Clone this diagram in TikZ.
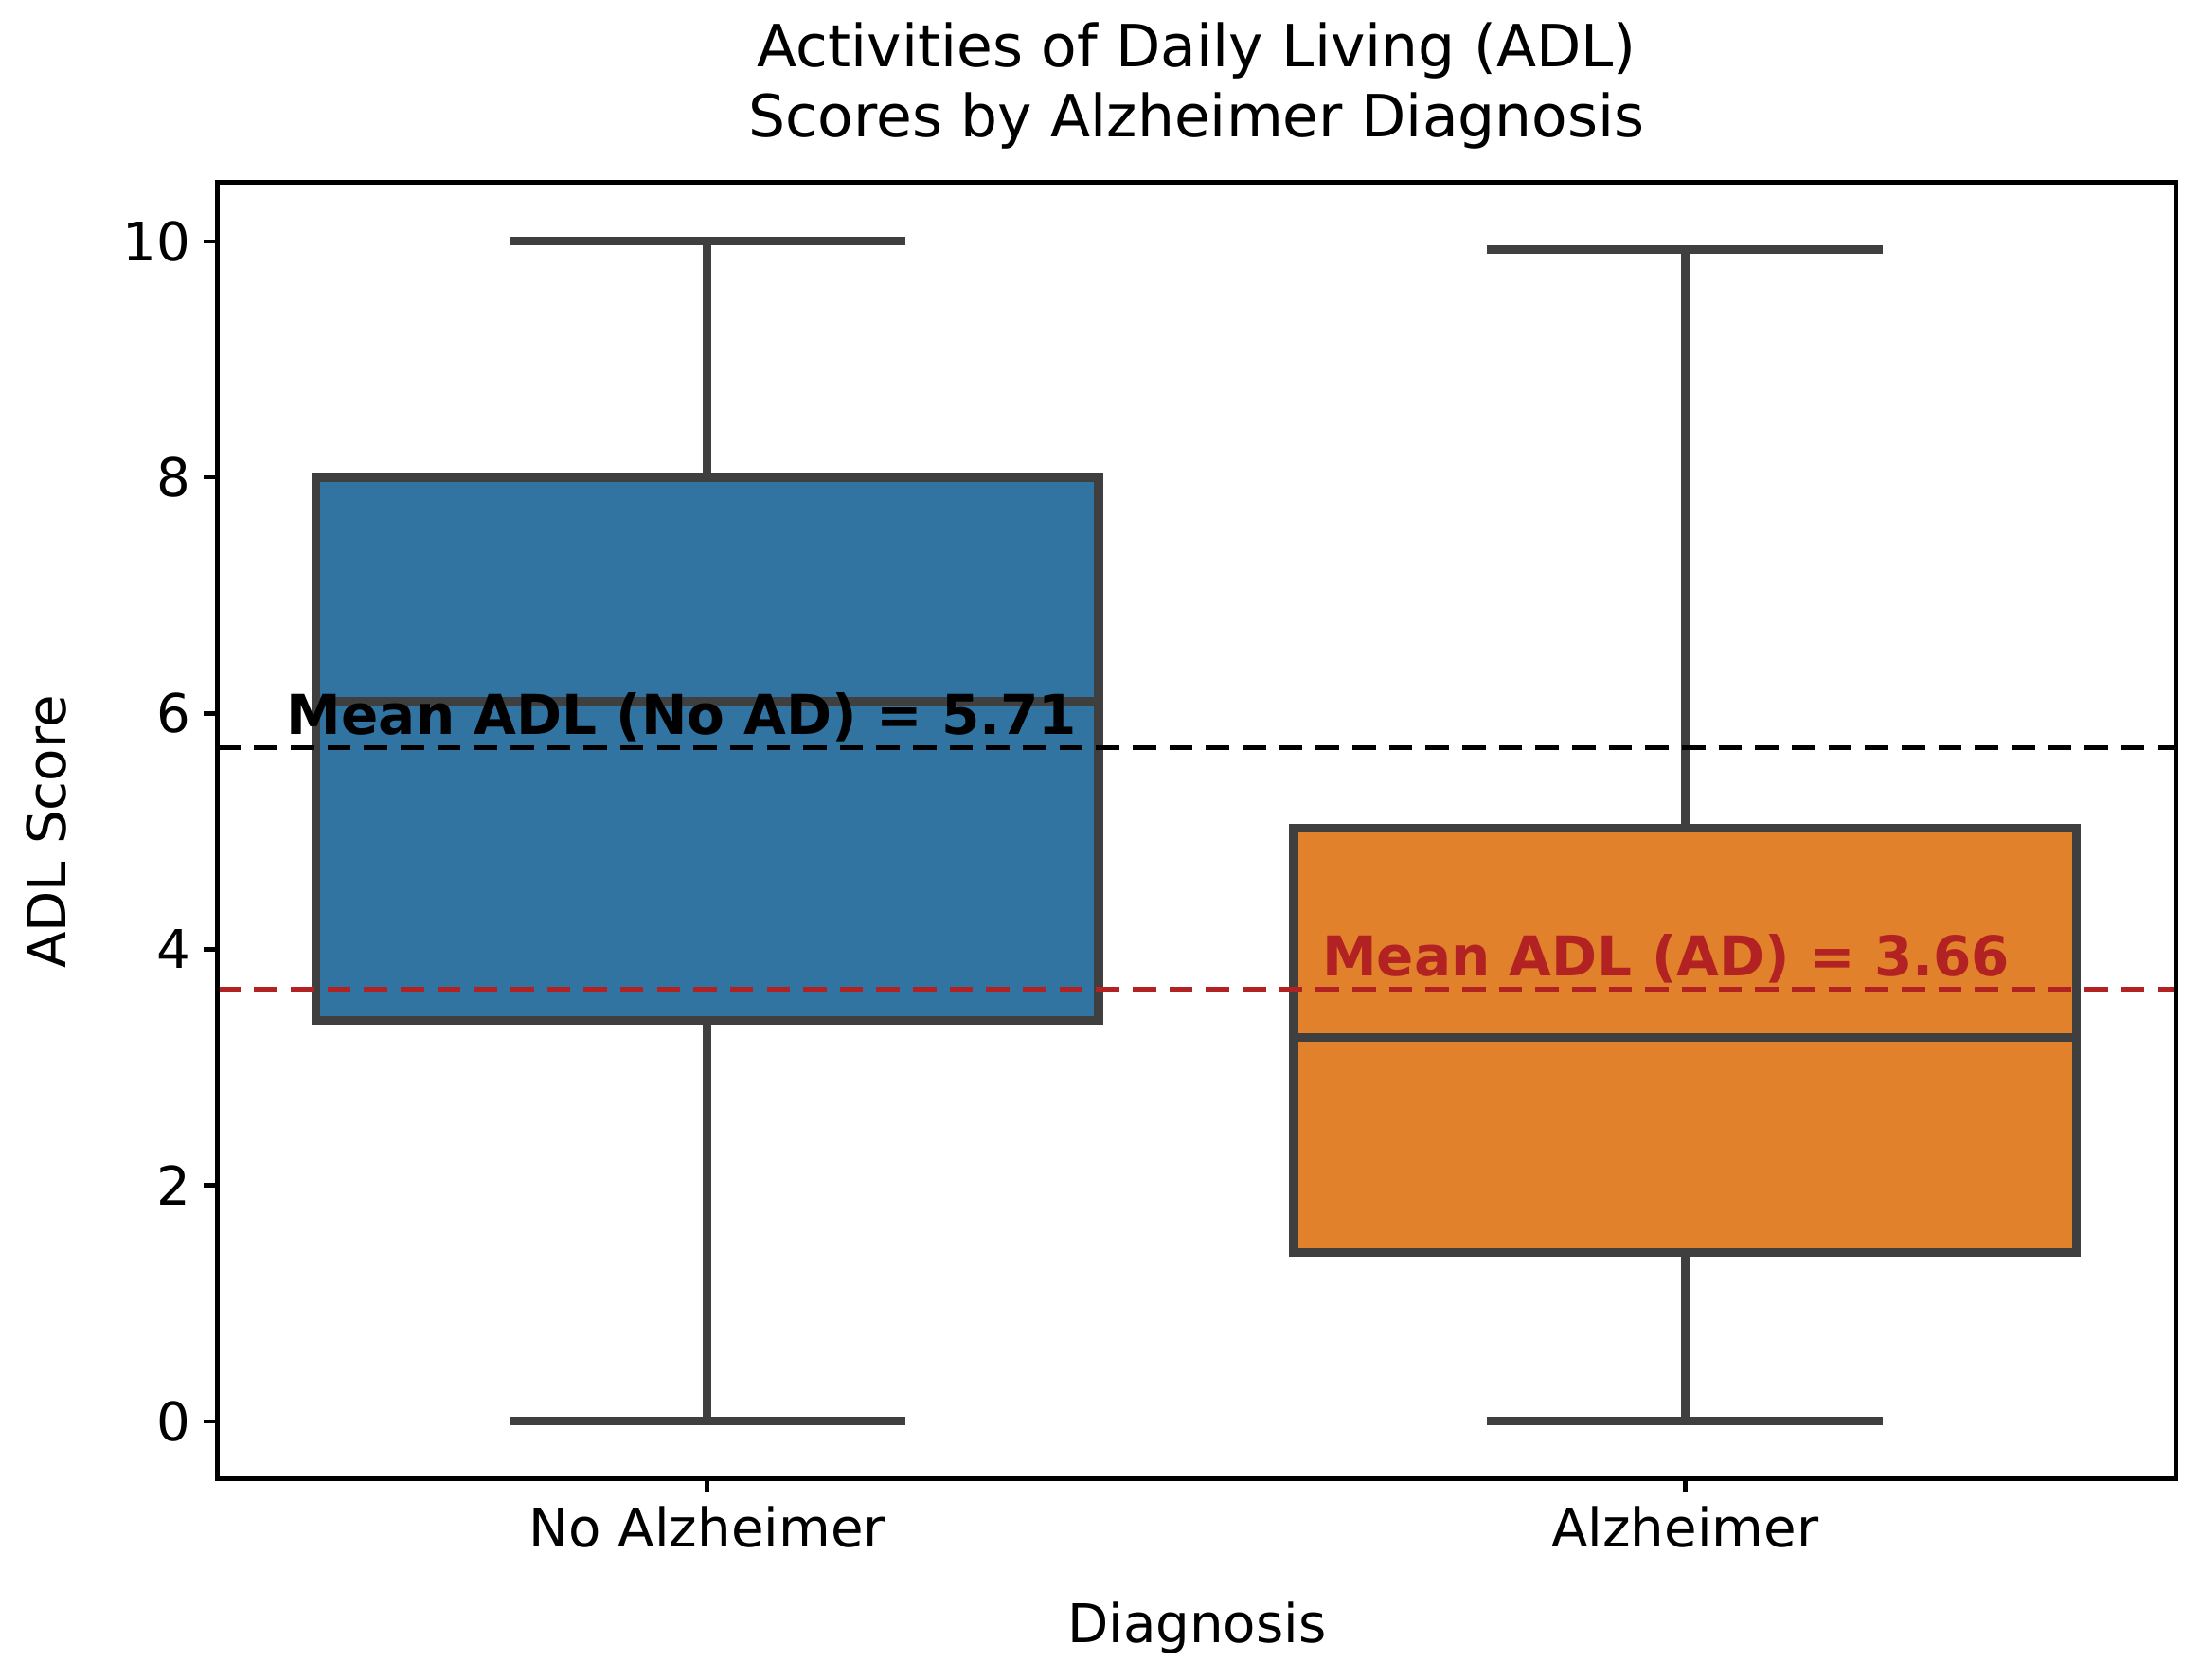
\documentclass[tikz,border=0pt]{standalone}
\usepackage{fontspec}
\setmainfont{DejaVu Sans}
\usepackage{tikz}
\definecolor{boxblue}{HTML}{3274A1}
\definecolor{boxorange}{HTML}{E1812C}
\definecolor{edgegray}{HTML}{3F3F3F}
\definecolor{meanred}{HTML}{B22222}
\tikzset{
  boxline/.style={draw=edgegray,line width=2.6pt},
  meanline/.style={dashed,line width=1.5pt,dash pattern=on 7pt off 4pt},
  ticklab/.style={font=\fontsize{16}{18}\selectfont},
}
\newcommand{\ypos}[1]{1013-84.1*#1}

\begin{document}
\begin{tikzpicture}[x=0.014815cm,y=-0.014815cm]
  \useasboundingbox (0,0) rectangle (1568,1197);

  % title
  \node[font=\fontsize{17.5}{21}\selectfont,align=center] (title) at (853,61)
    {Activities of Daily Living (ADL)\\Scores by Alzheimer Diagnosis};

  % boxes: center, q1, median, q3, low, high, fill
  \foreach \cx/\qa/\md/\qc/\lo/\hi/\fc in {504/3.4/6.1/8/0/10/boxblue,1201/1.43/3.25/5.03/0/9.93/boxorange}{
    \draw[boxline] (\cx,{\ypos{\lo}}) -- (\cx,{\ypos{\qa}});
    \draw[boxline] (\cx,{\ypos{\qc}}) -- (\cx,{\ypos{\hi}});
    \draw[boxline] (\cx-141,{\ypos{\lo}}) -- (\cx+141,{\ypos{\lo}});
    \draw[boxline] (\cx-141,{\ypos{\hi}}) -- (\cx+141,{\ypos{\hi}});
    \draw[boxline,fill=\fc] (\cx-279,{\ypos{\qa}}) rectangle (\cx+279,{\ypos{\qc}});
    \draw[boxline] (\cx-279,{\ypos{\md}}) -- (\cx+279,{\ypos{\md}});
  }

  % mean lines
  \draw[meanline,black] (155,{\ypos{5.71}}) -- (1551,{\ypos{5.71}});
  \draw[meanline,meanred] (155,{\ypos{3.66}}) -- (1551,{\ypos{3.66}});
  \node[anchor=west,font=\bfseries\fontsize{16.5}{18}\selectfont,inner sep=0pt] (meanno) at (204,511) {Mean ADL (No AD) = 5.71};
  \node[anchor=west,font=\bfseries\fontsize{16.5}{18}\selectfont,text=meanred,inner sep=0pt] (meanad) at (942,683) {Mean ADL (AD) = 3.66};

  % axes
  \draw[line width=1.3pt] (155,130) rectangle (1551,1054);
  \foreach \v in {0,2,...,10}{
    \draw[line width=1.3pt] (155,{\ypos{\v}}) -- (145,{\ypos{\v}})
      node[ticklab,anchor=east] {\v};
  }
  \draw[line width=1.3pt] (504,1054) -- (504,1064) node[ticklab,anchor=north] {No Alzheimer};
  \draw[line width=1.3pt] (1201,1054) -- (1201,1064) node[ticklab,anchor=north] {Alzheimer};
  \node[ticklab] (xlab) at (853,1160) {Diagnosis};
  \node[ticklab,rotate=90] (ylab) at (33,593) {ADL Score};
\end{tikzpicture}
\end{document}
